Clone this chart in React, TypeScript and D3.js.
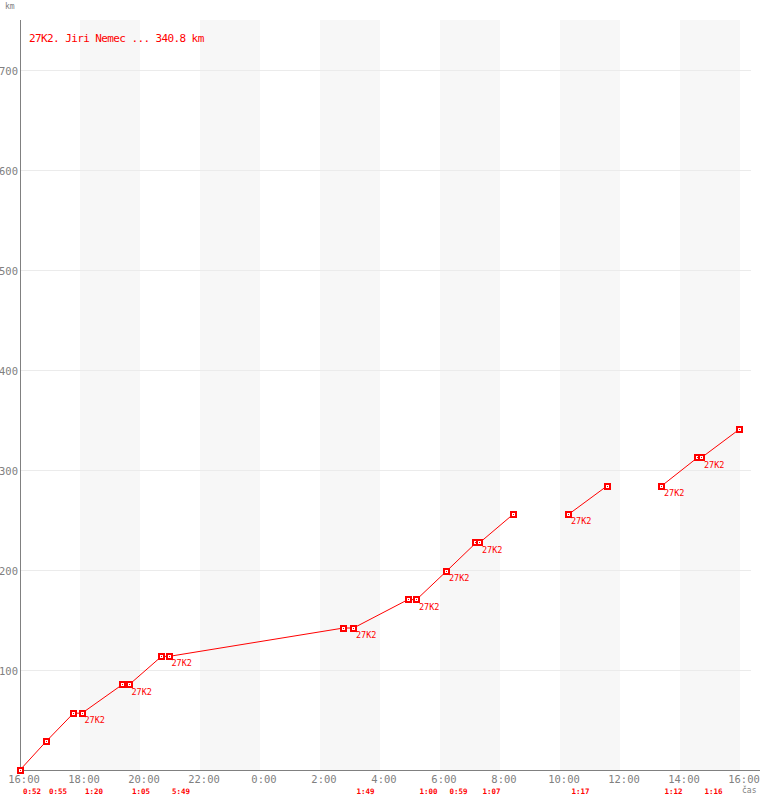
import React from "react";
import * as d3 from "d3";

const title = "27K2. Jiri Nemec ... 340.8 km";
const pointTimes = ["16:00","16:52","17:47","18:04","19:24","19:38","20:43","20:58","2:47","3:07","4:56","5:13","6:13","7:12","7:19","8:26","10:17","11:34","13:23","14:35","14:43","15:59"];
const pointKm = [0,28.4,56.8,56.8,85.2,85.2,113.6,113.6,142,142,170.4,170.4,198.8,227.2,227.2,255.6,255.6,284,284,312.4,312.4,340.8];
const stopLabelIdx = [3,5,7,9,11,12,14,16,18,20];
const stopLabel = "27K2";
const lineBreakBefore = [16, 18];
const legStartIdx = [0,1,3,5,7,9,11,12,14,16,18,20];
const legDurations = ["0:52","0:55","1:20","1:05","5:49","1:49","1:00","0:59","1:07","1:17","1:12","1:16"];
const xTickLabels = ["16:00","18:00","20:00","22:00","0:00","2:00","4:00","6:00","8:00","10:00","12:00","14:00","16:00"];
const yTicks = [100,200,300,400,500,600,700];
const stripeStartTicks = [1,3,5,7,9,11];

const toMin = (s: string) => {
  const [h, m] = s.split(":").map(Number);
  let v = h * 60 + m - 960;
  if (v < 0) v += 1440;
  return v;
};

export default function App() {
  const x = d3.scaleLinear().domain([0, 1440]).range([20, 740]);
  const y = d3.scaleLinear().domain([0, 700]).range([770, 70]);
  const pts = pointTimes.map((t, i) => ({ t: toMin(t), km: pointKm[i], i }));
  const line = d3
    .line<{ t: number; km: number; i: number }>()
    .x((d) => x(d.t))
    .y((d) => y(d.km));
  const runs: typeof pts[] = [];
  let cur: typeof pts = [];
  pts.forEach((p) => {
    if (lineBreakBefore.includes(p.i) && cur.length) {
      runs.push(cur);
      cur = [];
    }
    cur.push(p);
  });
  if (cur.length) runs.push(cur);

  const red = "#ff0000";
  const gray = "#808080";
  const mono = "'DejaVu Sans Mono', monospace";

  return (
    <svg
      width={760}
      height={800}
      style={{ position: "absolute", left: 0, top: 0, background: "#fff" }}
    >
      {stripeStartTicks.map((k) => (
        <rect key={k} x={x(k * 120)} y={20} width={x(120) - x(0)} height={750} fill="#f7f7f7" />
      ))}
      {yTicks.map((v) => (
        <line key={v} x1={20} x2={751} y1={y(v) + 0.5} y2={y(v) + 0.5} stroke="#ebebeb" strokeWidth={1} />
      ))}
      <line x1={20.5} x2={20.5} y1={20} y2={771} stroke={gray} strokeWidth={1} />
      <line x1={20} x2={760} y1={770.5} y2={770.5} stroke={gray} strokeWidth={1} />
      {yTicks.map((v) => (
        <text key={v} x={18} y={y(v) + 5} textAnchor="end" fontFamily={mono} fontSize={10.5} fill={gray}>
          {v}
        </text>
      ))}
      {xTickLabels.map((l, k) => (
        <text key={k} x={x(k * 120) + 4} y={783} textAnchor="middle" fontFamily={mono} fontSize={10.5} fill={gray}>
          {l}
        </text>
      ))}
      <text x={5} y={9} fontFamily={mono} fontSize={8} fill={gray}>km</text>
      <text x={742} y={793} fontFamily={mono} fontSize={8} fill={gray}>čas</text>
      <text x={29} y={42} fontFamily={mono} fontSize={11} letterSpacing={-0.6} fill={red}>
        {title}
      </text>
      {runs.map((r, k) => (
        <path key={k} d={line(r) || ""} fill="none" stroke={red} strokeWidth={1} />
      ))}
      {pts.map((p) => {
        const cx = Math.floor(x(p.t));
        const cy = Math.floor(y(p.km));
        return (
          <g key={p.i}>
            <rect x={cx - 2} y={cy - 2} width={5} height={5} fill="#fff" stroke={red} strokeWidth={2} />
            <rect x={cx} y={cy} width={1} height={1} fill={red} />
          </g>
        );
      })}
      {stopLabelIdx.map((i) => (
        <text key={i} x={x(pts[i].t) + 2.5} y={y(pts[i].km) + 10} fontFamily={mono} fontSize={8.5} fill={red}>
          {stopLabel}
        </text>
      ))}
      {legStartIdx.map((i, k) => (
        <text key={k} x={x(pts[i].t) + 3} y={794} fontFamily={mono} fontSize={7.5} fontWeight="bold" fill={red}>
          {legDurations[k]}
        </text>
      ))}
    </svg>
  );
}
